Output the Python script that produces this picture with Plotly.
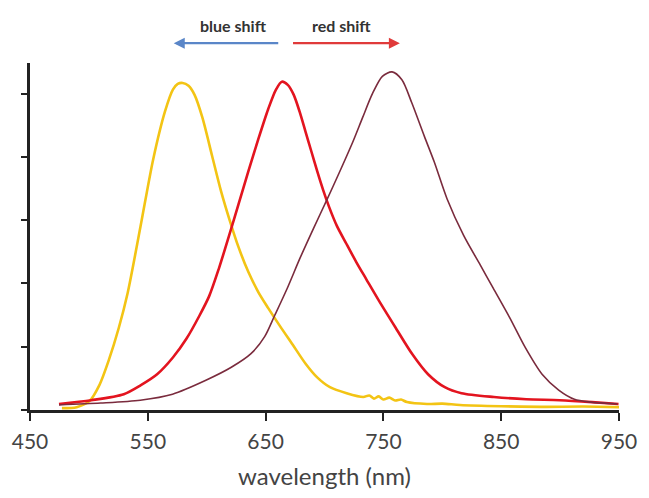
import plotly.graph_objects as go

# Yellow spectrum (blue-shifted)
yellow_x = [477.1, 489.6, 500.4, 508.8, 517.1, 525.4, 532.9, 543.8, 554.6, 564.6, 571.3, 575.4, 579.6, 584.6,
            589.6, 596.3, 604.6, 612.1, 619.6, 627.1, 635.4, 643.8, 652.1, 662.1, 672.9, 683.8, 693.8, 704.6,
            718.8, 732.9, 738, 742, 746, 750, 755, 760, 765, 770, 787, 800, 815, 850, 884, 920, 950]
yellow_y = [0.006, 0.009, 0.028, 0.078, 0.16, 0.26, 0.37, 0.58, 0.793, 0.944, 1.013, 1.031, 1.034, 1.025,
            0.997, 0.925, 0.803, 0.693, 0.599, 0.514, 0.436, 0.373, 0.323, 0.266, 0.207, 0.147, 0.103, 0.072,
            0.053, 0.041, 0.046, 0.036, 0.043, 0.033, 0.039, 0.030, 0.033, 0.025, 0.019, 0.02, 0.016, 0.012, 0.01, 0.011, 0.009]

# Red spectrum (reference)
red_x = [474.6, 502.1, 529.6, 543.8, 557.9, 571.3, 582.9, 593.8, 602.1, 610.4, 618.8, 627.1, 635.4, 643.8, 652.1,
         658.8, 663.8, 668.8, 673.8, 678.8, 683.8, 688.8, 693.8, 698.8, 703.8, 710.4, 718.8, 727.1, 735.4, 746.3,
         760.4, 774.6, 787.9, 802.1, 816.3, 843.8, 871.3, 899.6, 927.1, 949.6]
red_y = [0.019, 0.031, 0.05, 0.078, 0.113, 0.166, 0.226, 0.298, 0.36, 0.448, 0.549, 0.652, 0.755, 0.856, 0.95,
         1.013, 1.038, 1.028, 0.997, 0.944, 0.881, 0.818, 0.755, 0.696, 0.643, 0.583, 0.524, 0.467, 0.414, 0.345,
         0.26, 0.176, 0.113, 0.072, 0.053, 0.041, 0.034, 0.031, 0.025, 0.019]

# Dark red / brown spectrum (red-shifted)
brown_x = [474.6, 510, 543.6, 571, 599.3, 620.9, 637.6, 649.2, 657.6, 668.4, 679.2, 690.8, 701.7, 712.5, 724.1,
           732.4, 740.7, 749.1, 757.4, 765.7, 774, 784.8, 793.2, 804, 818.1, 832.3, 843.1, 857.2, 870.5, 884.7,
           898.8, 912.1, 926.3, 948.7]
brown_y = [0.016, 0.022, 0.031, 0.05, 0.094, 0.135, 0.178, 0.232, 0.298, 0.385, 0.48, 0.575, 0.662, 0.75, 0.848,
           0.925, 1.0, 1.055, 1.069, 1.044, 0.972, 0.865, 0.784, 0.668, 0.552, 0.458, 0.386, 0.292, 0.197, 0.113,
           0.063, 0.034, 0.025, 0.019]

x_ticks = [450, 550, 650, 750, 850, 950]
y_ticks = [0, 0.2, 0.4, 0.6, 0.8, 1.0]

fig = go.Figure()
fig.add_trace(go.Scatter(x=yellow_x, y=yellow_y, mode="lines",
                         line=dict(color="#f3c414", width=2.6, shape="spline", smoothing=0.8)))
fig.add_trace(go.Scatter(x=red_x, y=red_y, mode="lines",
                         line=dict(color="#e3141f", width=2.6, shape="spline", smoothing=0.8)))
fig.add_trace(go.Scatter(x=brown_x, y=brown_y, mode="lines",
                         line=dict(color="#7a2b3d", width=1.6, shape="spline", smoothing=0.8)))

fig.update_layout(
    width=649, height=498,
    margin=dict(l=27, r=22, t=63, b=85),
    paper_bgcolor="white", plot_bgcolor="white",
    showlegend=False,
    font=dict(family="Lato, Open Sans, sans-serif", color="#444"),
    xaxis=dict(range=[450, 950], tickvals=x_ticks, ticktext=[str(v) for v in x_ticks],
               showgrid=False, zeroline=False, showline=True, linecolor="#222", linewidth=3,
               ticks="outside", ticklen=8, tickwidth=2, tickcolor="#222",
               tickfont=dict(size=21, color="#444"), ticklabelstandoff=3,
               title=dict(text="wavelength (nm)", font=dict(size=24, color="#444"), standoff=16)),
    yaxis=dict(range=[0, 1.097], tickvals=y_ticks, showticklabels=False,
               showgrid=False, zeroline=False, showline=True, linecolor="#222", linewidth=3,
               ticks="outside", ticklen=6, tickwidth=2, tickcolor="#222"),
)

# arrows
arrow_y = 1.057
fig.add_annotation(x=572, y=arrow_y, ax=662, ay=0, xref="x", yref="paper", axref="x", ayref="pixel",
                   text="", showarrow=True, arrowhead=2, arrowsize=1, arrowwidth=2.2, arrowcolor="#5a86c8")
fig.add_annotation(x=764, y=arrow_y, ax=672, ay=0, xref="x", yref="paper", axref="x", ayref="pixel",
                   text="", showarrow=True, arrowhead=2, arrowsize=1, arrowwidth=2.2, arrowcolor="#e03a3a")
fig.add_annotation(x=623, y=1.109, xref="x", yref="paper", yanchor="middle", xanchor="center",
                   text="<b>blue shift</b>", showarrow=False, font=dict(size=16, color="#333"))
fig.add_annotation(x=714.5, y=1.109, xref="x", yref="paper", yanchor="middle", xanchor="center",
                   text="<b>red shift</b>", showarrow=False, font=dict(size=16, color="#333"))

fig.write_html("out.html", config={"displayModeBar": False},
               post_script="document.body.style.margin='0';document.body.style.overflow='hidden';")
